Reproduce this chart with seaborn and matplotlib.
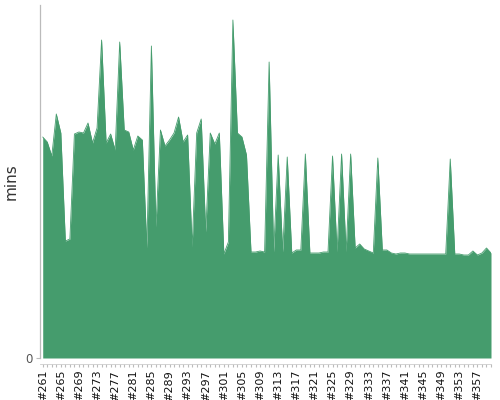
import matplotlib
matplotlib.use("Agg")
import matplotlib.pyplot as plt
from matplotlib.ticker import FixedLocator, FixedFormatter, NullFormatter
import seaborn as sns
import pandas as pd
import numpy as np

builds = list(range(261, 361))
minutes = [
    22.1, 21.6, 20.2, 24.4, 22.5, 11.7, 11.9, 22.4, 22.6, 22.5,
    23.5, 21.5, 23.0, 31.8, 21.5, 22.4, 20.8, 31.6, 22.8, 22.6,
    20.8, 22.2, 21.8, 11.0, 31.2, 13.1, 22.8, 21.2, 21.8, 22.5,
    24.1, 21.6, 22.3, 11.1, 22.5, 23.9, 12.6, 22.5, 21.4, 22.5,
    10.4, 11.6, 33.8, 22.5, 22.1, 20.3, 10.6, 10.6, 10.7, 10.6,
    29.6, 10.6, 20.3, 10.6, 20.1, 10.5, 10.8, 10.8, 20.4, 10.5,
    10.5, 10.5, 10.6, 10.6, 20.2, 10.6, 20.4, 10.6, 20.4, 11.0,
    11.4, 10.9, 10.7, 10.5, 20.0, 10.8, 10.8, 10.5, 10.4, 10.5,
    10.5, 10.4, 10.4, 10.4, 10.4, 10.4, 10.4, 10.4, 10.4, 10.4,
    19.9, 10.4, 10.4, 10.3, 10.3, 10.7, 10.3, 10.5, 11.0, 10.5,
]
tick_labels = [f"#{b}" for b in builds]

df = pd.DataFrame({"build": tick_labels, "mins": minutes})
df["idx"] = np.arange(len(df), dtype=float)

sns.set_theme(style="white")
plt.rcParams["font.family"] = ["DejaVu Sans"]

fig = plt.figure(figsize=(5, 4), dpi=100)
ax = fig.add_axes([0.08, 0.105, 0.902, 0.8825])

color = "#459c6d"
sns.lineplot(data=df, x="idx", y="mins", ax=ax, color=color, linewidth=0.6)
ax.fill_between(df["idx"].to_numpy(), 0, df["mins"].to_numpy(), color=color, linewidth=0)

ax.set_xlim(-0.6, len(df) - 1)
ax.set_ylim(0, 35.3)

ax.yaxis.set_major_locator(FixedLocator([0]))
ax.yaxis.set_major_formatter(FixedFormatter(["0"]))
ax.tick_params(axis="y", left=True, length=3, width=0.8, color="#bbbbbb", pad=2,
               labelsize=8.5, labelcolor="#555555")

major_pos = df["idx"].to_numpy()[::4].tolist()
major_lab = tick_labels[::4]
ax.xaxis.set_major_locator(FixedLocator(major_pos))
ax.xaxis.set_major_formatter(FixedFormatter(major_lab))
ax.xaxis.set_minor_locator(FixedLocator(df["idx"].to_numpy().tolist()))
ax.xaxis.set_minor_formatter(NullFormatter())
ax.tick_params(axis="x", which="both", bottom=True, length=2.5, width=0.8,
               color="#bbbbbb", direction="out", pad=2, labelsize=8,
               labelcolor="#111111", labelrotation=90)

for s in ["top", "right"]:
    ax.spines[s].set_visible(False)
ax.spines["left"].set_color("#bbbbbb")
ax.spines["left"].set_linewidth(0.9)
ax.spines["bottom"].set_color("#cccccc")
ax.spines["bottom"].set_linewidth(0.6)
ax.spines["bottom"].set_position(("outward", 4))

ax.set_xlabel("")
ax.set_ylabel("mins", fontsize=11, color="#333333", labelpad=5)

fig.savefig("out.png", dpi=100)
